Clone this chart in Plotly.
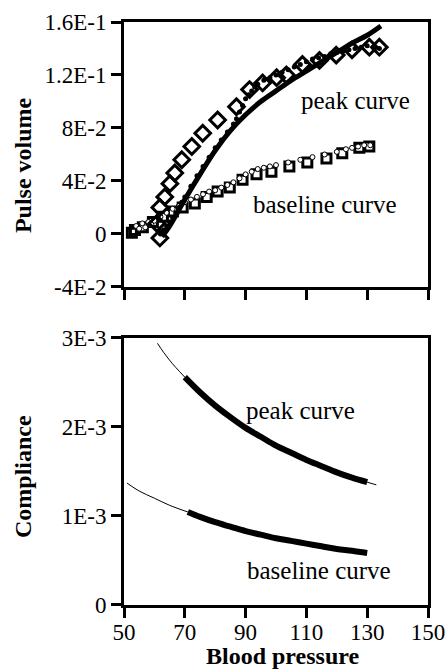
import plotly.graph_objects as go

# ---------------- data: top panel (pulse volume) ----------------
peak_fit_bp = [62.5, 65, 70, 75, 80, 85, 90, 95, 100, 105, 110, 115, 120, 125, 130, 134.5]
peak_fit_pv = [-0.002, 0.006, 0.026, 0.045, 0.063, 0.078, 0.090, 0.100, 0.108, 0.116,
               0.123, 0.130, 0.137, 0.144, 0.150, 0.157]

peak_diam_bp = [61.8, 60.8, 61.8, 63.4, 65.1, 66.7, 69.0, 72.3, 75.9, 80.8, 87.0, 91.3,
                95.6, 100.2, 103.4, 108.7, 114.3, 119.8, 125.0, 130.7, 134.0]
peak_diam_pv = [-0.003, 0.008, 0.020, 0.028, 0.038, 0.046, 0.056, 0.066, 0.076, 0.086,
                0.096, 0.109, 0.114, 0.118, 0.120, 0.128, 0.131, 0.135, 0.139, 0.141, 0.141]

peak_dot_bp = [62, 63, 64, 65, 66, 67, 68, 69, 70, 72, 74, 76, 78, 80, 82, 84, 86, 87, 88,
               89, 90, 91, 92, 93, 94, 96, 98, 100, 102, 104, 106, 108, 110, 112, 114, 116,
               118, 120, 122, 124, 126, 128, 130, 132, 134]
peak_dot_pv = [0.000, 0.003, 0.006, 0.009, 0.012, 0.016, 0.020, 0.024, 0.028, 0.036, 0.044,
               0.051, 0.058, 0.065, 0.071, 0.077, 0.083, 0.087, 0.092, 0.097, 0.102, 0.105,
               0.108, 0.111, 0.113, 0.116, 0.118, 0.120, 0.122, 0.124, 0.126, 0.128, 0.130,
               0.132, 0.133, 0.134, 0.136, 0.137, 0.138, 0.139, 0.140, 0.141, 0.142, 0.141,
               0.140]

base_sq_bp = [52.6, 53.6, 56.2, 59.5, 62.8, 66.1, 69.3, 73.3, 77.2, 80.8, 84.8, 89.0, 93.6,
              98.5, 104.4, 110.3, 116.6, 121.8, 127.4, 130.7]
base_sq_pv = [0.001, 0.003, 0.005, 0.009, 0.013, 0.017, 0.020, 0.023, 0.028, 0.032, 0.035,
              0.041, 0.045, 0.047, 0.051, 0.054, 0.057, 0.061, 0.065, 0.066]

base_dot_bp = [54, 55, 56, 57, 58, 59, 60, 62, 64, 66, 68, 70, 72, 74, 76, 78, 80, 82, 84,
               86, 88, 90, 92, 94, 96, 98, 100, 104, 108, 112, 116, 120, 123, 125, 127, 129,
               131]
base_dot_pv = [0.006, 0.004, 0.008, 0.005, 0.009, 0.007, 0.010, 0.013, 0.016, 0.019, 0.021,
               0.024, 0.026, 0.028, 0.030, 0.032, 0.033, 0.035, 0.037, 0.039, 0.042, 0.045,
               0.047, 0.049, 0.050, 0.051, 0.052, 0.054, 0.056, 0.058, 0.060, 0.062, 0.064,
               0.065, 0.066, 0.067, 0.067]

# ---------------- data: bottom panel (compliance) ----------------
peak_c_thin1_bp = [61, 63, 65, 67, 70]
peak_c_thin1 = [2.94e-3, 2.84e-3, 2.75e-3, 2.67e-3, 2.56e-3]
peak_c_bp = [70, 75, 80, 85, 90, 95, 100, 105, 110, 115, 120, 125, 130]
peak_c = [2.56e-3, 2.39e-3, 2.24e-3, 2.11e-3, 1.99e-3, 1.89e-3, 1.79e-3, 1.71e-3, 1.63e-3,
          1.56e-3, 1.49e-3, 1.43e-3, 1.38e-3]
peak_c_thin2_bp = [130, 133]
peak_c_thin2 = [1.38e-3, 1.35e-3]

base_c_thin_bp = [51, 55, 60, 65, 71]
base_c_thin = [1.37e-3, 1.28e-3, 1.20e-3, 1.12e-3, 1.045e-3]
base_c_bp = [71, 75, 80, 85, 90, 95, 100, 105, 110, 115, 120, 125, 130]
base_c = [1.045e-3, 0.99e-3, 0.93e-3, 0.88e-3, 0.83e-3, 0.79e-3, 0.75e-3, 0.72e-3, 0.69e-3,
          0.66e-3, 0.63e-3, 0.61e-3, 0.585e-3]

x_ticks = [50, 70, 90, 110, 130, 150]
pv_ticks = [-0.04, 0, 0.04, 0.08, 0.12, 0.16]
pv_labels = ["-4E-2", "0", "4E-2", "8E-2", "1.2E-1", "1.6E-1"]
c_ticks = [0, 1e-3, 2e-3, 3e-3]
c_labels = ["0", "1E-3", "2E-3", "3E-3"]

FONT = "Liberation Serif, Times New Roman, DejaVu Serif, serif"
fig = go.Figure()

# top panel
fig.add_trace(go.Scatter(x=base_sq_bp, y=base_sq_pv, mode="markers", xaxis="x", yaxis="y",
                         marker=dict(symbol="square-open", size=9, color="black",
                                     line=dict(width=3, color="black"))))
fig.add_trace(go.Scatter(x=base_dot_bp, y=base_dot_pv, mode="markers", xaxis="x", yaxis="y",
                         marker=dict(symbol="circle", size=5, color="white",
                                     line=dict(width=1, color="black"))))
fig.add_trace(go.Scatter(x=peak_fit_bp, y=peak_fit_pv, mode="lines", xaxis="x", yaxis="y",
                         line=dict(color="black", width=5, shape="spline")))
fig.add_trace(go.Scatter(x=peak_dot_bp, y=peak_dot_pv, mode="markers", xaxis="x", yaxis="y",
                         marker=dict(symbol="circle", size=5, color="black")))
fig.add_trace(go.Scatter(x=peak_diam_bp, y=peak_diam_pv, mode="markers", xaxis="x", yaxis="y",
                         marker=dict(symbol="diamond-open", size=12, color="black",
                                     line=dict(width=3, color="black"))))

# bottom panel
for xs, ys, w in [(peak_c_thin1_bp, peak_c_thin1, 1), (peak_c_bp, peak_c, 6),
                  (peak_c_thin2_bp, peak_c_thin2, 1), (base_c_thin_bp, base_c_thin, 1),
                  (base_c_bp, base_c, 6)]:
    fig.add_trace(go.Scatter(x=xs, y=ys, mode="lines", xaxis="x2", yaxis="y2",
                             line=dict(color="black", width=w, shape="spline")))

axis_common = dict(showline=True, linewidth=3, linecolor="black", mirror=True,
                   ticks="outside", ticklen=10, tickwidth=3, tickcolor="black",
                   showgrid=False, zeroline=False, automargin=False,
                   tickfont=dict(family=FONT, size=23, color="black"))

title_font = dict(family=FONT, size=24, color="black")
label_font = dict(family=FONT, size=25, color="black")

fig.update_layout(
    width=447, height=671, showlegend=False,
    paper_bgcolor="white", plot_bgcolor="white",
    font=dict(family=FONT, color="black"),
    margin=dict(l=124, r=19, t=22, b=66),
    xaxis=dict(axis_common, domain=[0, 1], anchor="y", range=[50, 150],
               tickvals=x_ticks, showticklabels=False),
    yaxis=dict(axis_common, domain=[0.5455, 1], anchor="x", range=[-0.04, 0.16],
               tickvals=pv_ticks, ticktext=pv_labels),
    xaxis2=dict(axis_common, domain=[0, 1], anchor="y2", range=[50, 150],
                tickvals=x_ticks, ticktext=[str(v) for v in x_ticks],
                ticklabelstandoff=-6),
    yaxis2=dict(axis_common, domain=[0, 0.458], anchor="x2", range=[0, 3e-3],
                tickvals=c_ticks, ticktext=c_labels),
    annotations=[
        # axis titles
        dict(x=-0.332, y=0.7547, xref="paper", yref="paper", text="<b>Pulse volume</b>",
             textangle=-90, showarrow=False, xanchor="center", yanchor="middle",
             font=title_font),
        dict(x=-0.332, y=0.2196, xref="paper", yref="paper", text="<b>Compliance</b>",
             textangle=-90, showarrow=False, xanchor="center", yanchor="middle",
             font=title_font),
        dict(x=0.523, y=-0.1115, xref="paper", yref="paper", text="<b>Blood pressure</b>",
             showarrow=False, xanchor="center", yanchor="bottom", borderpad=0,
             font=title_font),
        # curve labels
        dict(x=126, y=0.101, xref="x", yref="y", text="peak curve", showarrow=False,
             font=label_font),
        dict(x=116, y=0.022, xref="x", yref="y", text="baseline curve", showarrow=False,
             font=label_font),
        dict(x=108, y=2.19e-3, xref="x2", yref="y2", text="peak curve", showarrow=False,
             font=label_font),
        dict(x=114, y=0.39e-3, xref="x2", yref="y2", text="baseline curve", showarrow=False,
             font=label_font),
    ],
)

fig.write_html("out.html")
